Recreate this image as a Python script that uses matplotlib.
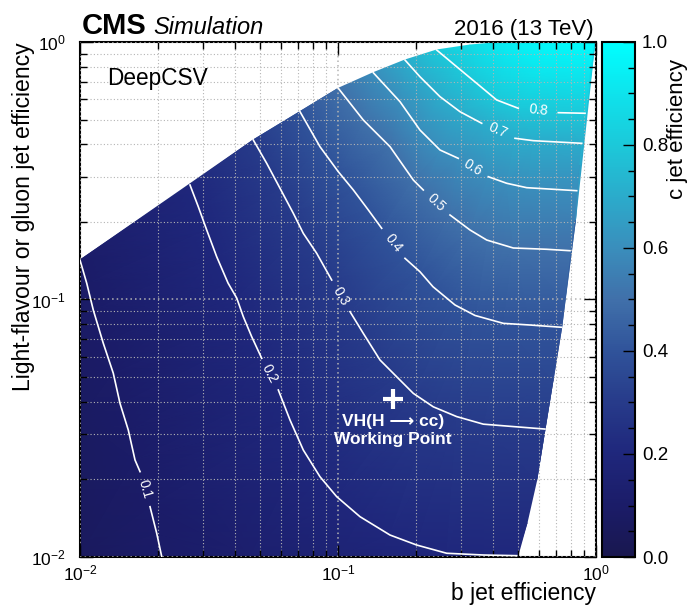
import numpy as np
import matplotlib
matplotlib.use('Agg')
import matplotlib.pyplot as plt
import matplotlib.tri as mtri
from matplotlib.colors import LinearSegmentedColormap
from matplotlib.ticker import MultipleLocator, NullFormatter, FormatStrFormatter

plt.rcParams['font.family'] = ['Liberation Sans', 'DejaVu Sans']
plt.rcParams['mathtext.fontset'] = 'custom'
plt.rcParams['mathtext.rm'] = 'Liberation Sans'
plt.rcParams['mathtext.it'] = 'Liberation Sans:italic'
plt.rcParams['mathtext.bf'] = 'Liberation Sans:bold'

nan = np.nan

# iso-lines of c jet efficiency
# (b efficiency, light efficiency); nan = gap where the label sits
levels = [0.1, 0.2, 0.3, 0.4, 0.5, 0.6, 0.7, 0.8]

c01_b = [0.0100, 0.01062, 0.01126, 0.01231, 0.01346, 0.01429, 0.01539, 0.01634, 0.01709, nan, 0.01868, 0.01983, 0.02074]
c01_l = [0.1423, 0.1156, 0.0910, 0.0676, 0.0517, 0.0395, 0.0311, 0.0238, 0.02145, nan, 0.01568, 0.01236, 0.01003]

c02_b = [0.02669, 0.02874, 0.03098, 0.03387, 0.03747, 0.04050, 0.04296, 0.04629, 0.05062, nan,
         0.05870, 0.06516, 0.07336, 0.08514, 0.09886, 0.1217, 0.1591, 0.2018, 0.2638, 0.3658, 0.4927]
c02_l = [0.2784, 0.2293, 0.1862, 0.1466, 0.1159, 0.1013, 0.0857, 0.0717, 0.0591, nan,
         0.04452, 0.03404, 0.02603, 0.02050, 0.01715, 0.01434, 0.01217, 0.01113, 0.01034, 0.01018, 0.01012]

c03_b = [0.04695, 0.05292, 0.05960, 0.06710, 0.07336, 0.08267, 0.09454, nan,
         0.1113, 0.1253, 0.1455, 0.1689, 0.1958, 0.2341, 0.2884, 0.3658, 0.4780, 0.6341]
c03_l = [0.4164, 0.3380, 0.2703, 0.2162, 0.1807, 0.1512, 0.1190, nan,
         0.0897, 0.0739, 0.0582, 0.0501, 0.0432, 0.0383, 0.0351, 0.0328, 0.0321, 0.0314]

c04_b = [0.07124, 0.08514, 0.1003, 0.1147, 0.1311, 0.1477, nan, 0.1818, 0.2078, 0.2334, 0.2842, 0.3396, 0.4372, 0.5548, 0.7362]
c04_l = [0.5363, 0.3921, 0.3134, 0.2662, 0.2226, 0.1890, nan, 0.1445, 0.1282, 0.1121, 0.0952, 0.0867, 0.0808, 0.0796, 0.0780]

c05_b = [0.1003, 0.1253, 0.1591, 0.1958, 0.2141, nan, 0.2717, 0.3248, 0.3771, 0.4780, 0.6438, 0.7929]
c05_l = [0.6610, 0.4979, 0.3921, 0.2911, 0.2662, nan, 0.2129, 0.1862, 0.1702, 0.1585, 0.1567, 0.1547]

c06_b = [0.1370, 0.1739, 0.2078, 0.2485, 0.2925, nan, 0.3825, 0.4507, 0.5387, 0.8418]
c06_l = [0.7600, 0.5863, 0.4551, 0.3807, 0.3534, nan, 0.2998, 0.2827, 0.2718, 0.2646]

c07_b = [0.1818, 0.2078, 0.2485, 0.2970, 0.3606, nan, 0.4853, 0.5715, 0.8805]
c07_l = [0.8514, 0.7330, 0.6133, 0.5363, 0.4834, nan, 0.4227, 0.4138, 0.4042]

c08_b = [0.2413, 0.2884, 0.3448, 0.4122, 0.4997, nan, 0.7143, 0.9066]
c08_l = [0.9310, 0.8017, 0.6911, 0.5954, 0.5529, nan, 0.5315, 0.5287]

# extra points on the edge of the filled region (and one inside), c estimated from the colour
edge_b = [0.01, 0.01, 0.01, 0.0456, 0.100, 0.208, 0.4963, 0.540, 0.589, 0.6813, 0.7583, 0.8325,
          0.867, 0.8946, 0.931, 0.965, 0.991, 0.6633, 0.4438, 0.3248, 0.6067]
edge_l = [0.0696, 0.0340, 0.0100, 0.0100, 0.0100, 0.0100, 0.0100, 0.01355, 0.0199, 0.0487, 0.0996, 0.2035,
          0.333, 0.4634, 0.651, 0.836, 1.0, 1.0, 1.0, 0.9735, 0.7445]
edge_c = [0.086, 0.075, 0.060, 0.130, 0.165, 0.190, 0.200, 0.225, 0.260, 0.350, 0.435, 0.550,
          0.650, 0.750, 0.870, 0.940, 1.000, 0.980, 0.940, 0.870, 0.900]

# working point
wp_b = 0.163
wp_l = 0.041

line_b = [c01_b, c02_b, c03_b, c04_b, c05_b, c06_b, c07_b, c08_b]
line_l = [c01_l, c02_l, c03_l, c04_l, c05_l, c06_l, c07_l, c08_l]

cmap = LinearSegmentedColormap.from_list('cms_c', [
    '#19174f', '#1b1c68', '#1f277c', '#273b8a', '#30539a', '#4070aa',
    '#3a8ebc', '#2babcb', '#1cc8d9', '#0ee3ec', '#00ffff'])

W, H = 692, 605
fig = plt.figure(figsize=(W / 100, H / 100), dpi=100)
ax = fig.add_axes([80 / W, 48 / H, 516 / W, 515 / H])
cax = fig.add_axes([602 / W, 48 / H, 33 / W, 515 / H])

ax.set_xscale('log')
ax.set_yscale('log')
ax.set_xlim(0.01, 1)
ax.set_ylim(0.01, 1)

# all points with a known c value
pb, pl, pc = [], [], []
for lev, xb, yl in zip(levels, line_b, line_l):
    xb = np.array(xb)
    yl = np.array(yl)
    ok = ~np.isnan(xb)
    pb += list(xb[ok])
    pl += list(yl[ok])
    pc += [lev] * int(ok.sum())
pb += edge_b
pl += edge_l
pc += edge_c

# triangulate in the scaled (log) space of the axes and shade smoothly
xy = ax.transScale.transform(np.column_stack([pb, pl]))
tri = mtri.Triangulation(xy[:, 0], xy[:, 1])
mesh = ax.tripcolor(tri, np.array(pc), shading='gouraud', cmap=cmap, vmin=0, vmax=1,
                    transform=ax.transLimits + ax.transAxes, zorder=0.5)
ax.set_xlim(0.01, 1)
ax.set_ylim(0.01, 1)

# contour lines with labels in their gaps
for lev, xb, yl in zip(levels, line_b, line_l):
    xb = np.array(xb)
    yl = np.array(yl)
    ax.plot(xb, yl, color='white', lw=1.2, zorder=3)
    k = np.where(np.isnan(xb))[0][0]
    p1 = ax.transData.transform((xb[k - 1], yl[k - 1]))
    p2 = ax.transData.transform((xb[k + 1], yl[k + 1]))
    ang = np.degrees(np.arctan2(p2[1] - p1[1], p2[0] - p1[0]))
    mid = ax.transData.inverted().transform((p1 + p2) / 2)
    ax.text(mid[0], mid[1], f'{lev:.1f}', rotation=ang, rotation_mode='anchor',
            ha='center', va='center', color='white', fontsize=10, zorder=4)

ax.plot([wp_b], [wp_l], marker='+', ms=14, mew=3, color='white', zorder=5)
ax.annotate('VH(H \u27f6 cc)\nWorking Point', xy=(wp_b, wp_l), xytext=(0, -11),
            textcoords='offset points', ha='center', va='top', color='white',
            fontsize=12.5, fontweight='bold', linespacing=1.2, zorder=5)

# axes styling
ax.set_axisbelow(False)
ax.grid(True, which='major', color='#b4b4b4', lw=1.1, ls=(0, (1, 2)))
ax.grid(True, which='minor', color='#b4b4b4', lw=0.8, ls=(0, (1, 2)))
ax.xaxis.set_minor_formatter(NullFormatter())
ax.yaxis.set_minor_formatter(NullFormatter())
ax.tick_params(which='both', direction='in', top=True, right=True, labelsize=12.5)
ax.tick_params(which='major', length=9, width=1)
ax.tick_params(which='minor', length=5, width=1)
ax.tick_params(axis='x', pad=5)
ax.tick_params(axis='y', pad=10)
for s in ax.spines.values():
    s.set_linewidth(1.5)

ax.text(1.0, -0.07, 'b jet efficiency', transform=ax.transAxes, ha='right', va='center', fontsize=16.5)
ax.text(-0.11, 1.0, 'Light-flavour or gluon jet efficiency', transform=ax.transAxes,
        rotation=90, ha='center', va='top', fontsize=16.6)
ax.text(0.0523, 0.9165, 'DeepCSV', transform=ax.transAxes, ha='left', va='baseline', fontsize=16.3)

fig.text(82 / W, 1 - 34 / H, 'CMS', fontweight='bold', fontsize=21, ha='left', va='baseline')
fig.text(153 / W, 1 - 34 / H, 'Simulation', fontstyle='italic', fontsize=17, ha='left', va='baseline')
fig.text(594 / W, 1 - 35 / H, '2016 (13 TeV)', fontsize=16, ha='right', va='baseline')

# colour bar
cb = fig.colorbar(mesh, cax=cax)
cb.set_ticks([0.0, 0.2, 0.4, 0.6, 0.8, 1.0])
cax.yaxis.set_major_formatter(FormatStrFormatter('%.1f'))
cax.yaxis.set_minor_locator(MultipleLocator(0.05))
cax.tick_params(which='both', direction='in', left=False, right=True, labelsize=13.5, pad=5)
cax.tick_params(which='major', length=9, width=1)
cax.tick_params(which='minor', length=5, width=1)
cb.outline.set_linewidth(1.5)
cax.text(2.3, 0.967, 'c jet efficiency', transform=cax.transAxes, rotation=90,
         ha='center', va='top', fontsize=16)

fig.savefig('out.png', dpi=100)
